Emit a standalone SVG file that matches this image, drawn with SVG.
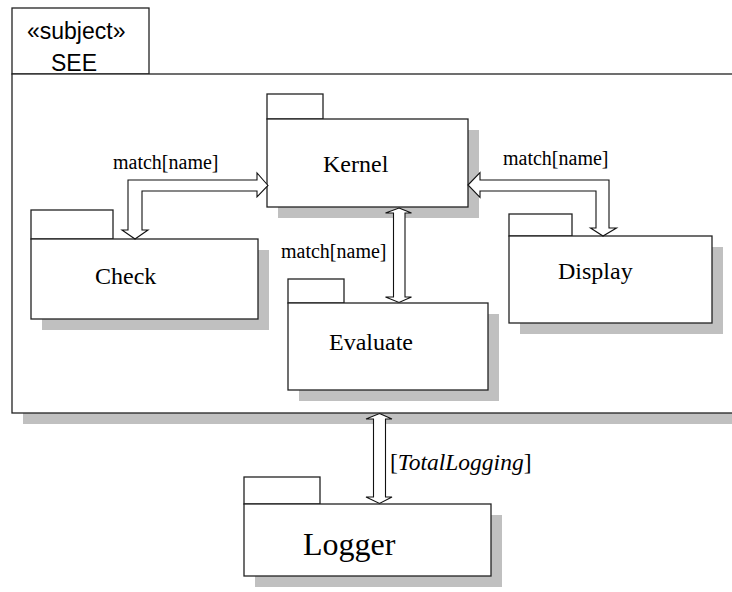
<svg xmlns="http://www.w3.org/2000/svg" width="732" height="592" viewBox="0 0 732 592">
<style>
.sh{fill:#c0c0c0;stroke:none}
.bx{fill:#fff;stroke:#222;stroke-width:1.3}
.nm{font-family:"Liberation Serif","Times New Roman",serif;font-size:24px;fill:#000}
.lb{font-family:"Liberation Serif","Times New Roman",serif;font-size:20px;fill:#000}
.ar{fill:#fff;stroke:#111;stroke-width:1.1;stroke-linejoin:miter}
.ss{font-family:"Liberation Sans",Arial,sans-serif;font-size:23px;fill:#000}
</style>
<rect width="732" height="592" fill="#fff"/>
<g id="frame">
<rect class="sh" x="23" y="85" width="760" height="339"/>
<rect class="bx" x="12" y="8" width="137" height="66"/>
<rect class="bx" x="12" y="74" width="760" height="339" stroke-width="1.6" stroke="#333"/>
<text class="ss" x="27" y="39">«subject»</text>
<text class="ss" x="51" y="71">SEE</text>
</g>
<g id="kernel">
<rect class="sh" x="278" y="130" width="201" height="88"/>
<rect class="bx" x="267" y="94" width="56" height="25"/>
<rect class="bx" x="267" y="119" width="201" height="88"/>
<text class="nm" x="323" y="172">Kernel</text>
</g>
<g id="check">
<rect class="sh" x="42" y="250" width="227" height="80"/>
<rect class="bx" x="31" y="210" width="82" height="29"/>
<rect class="bx" x="31" y="239" width="227" height="80"/>
<text class="nm" x="95" y="284">Check</text>
</g>
<g id="display">
<rect class="sh" x="520" y="247" width="203" height="87"/>
<rect class="bx" x="509" y="214" width="63" height="22"/>
<rect class="bx" x="509" y="236" width="203" height="87"/>
<text class="nm" x="558" y="279">Display</text>
</g>
<g id="evaluate">
<rect class="sh" x="299" y="314" width="200" height="87"/>
<rect class="bx" x="288" y="279" width="56" height="24"/>
<rect class="bx" x="288" y="303" width="200" height="87"/>
<text class="nm" x="329" y="350">Evaluate</text>
</g>
<g id="logger">
<rect class="sh" x="255" y="515" width="247" height="72"/>
<rect class="bx" x="244" y="477" width="76" height="27"/>
<rect class="bx" x="244" y="504" width="247" height="72"/>
<text class="nm" x="303" y="555" style="font-size:32px">Logger</text>
</g>
<g id="connectors">
<polygon class="ar" points="268,185.5 257,173 257,180 128,180 128,230 122,230 135,239 148,230 142,230 142,191 257,191 257,197"/>
<polygon class="ar" points="468,185 480,172.5 480,180 609,180 609,228 616.5,228 603,236 590.5,228 596,228 596,191 480,191 480,197.5"/>
<polygon class="ar" points="399,208 411.5,213 405,213 405,297 411.5,297 399,302.5 385.5,297 393.5,297 393.5,213 385.5,213"/>
<polygon class="ar" points="379.5,413.5 392,419 385.5,419 385.5,497 392,497 379.5,503.5 366,497 373.5,497 373.5,419 366,419"/>
<text class="lb" x="113" y="169">match[name]</text>
<text class="lb" x="503" y="165">match[name]</text>
<text class="lb" x="281" y="258">match[name]</text>
<text class="lb" x="390" y="470" style="font-size:23.5px">[<tspan font-style="italic">TotalLogging</tspan>]</text>
</g>
</svg>
